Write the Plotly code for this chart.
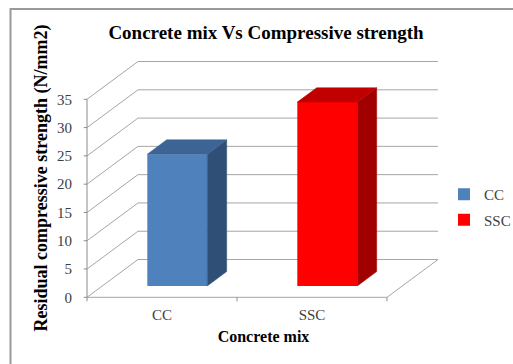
import plotly.graph_objects as go

# Data
categories = ["CC", "SSC"]
strength = [23.3, 32.5]  # residual compressive strength, N/mm2
y_ticks = [0, 5, 10, 15, 20, 25, 30, 35]

# Styling for each mix: front, top and side face colours
front_colors = ["#4F81BD", "#FF0000"]
top_colors = ["#3C6495", "#C00000"]
side_colors = ["#2F4F77", "#A00000"]

# Oblique 3-D projection (depth expressed in axis units)
DX = 0.34        # horizontal shift of the back plane, category units
DY = 6.68        # vertical shift of the back plane, value units
F0, F1 = 0.30, 0.68   # bar front / back depth fraction
HALF_W = 0.2     # half bar width, category units
Y_MAX = 35
GRID = "#A6A6A6"
AXIS = "#8C8C8C"
SERIF = "Liberation Serif, Times New Roman, serif"

# Page and plot-area geometry (pixels)
W, H = 513, 364
M_L, M_R, M_T, M_B = 80, 66, 54, 62
PW, PH = W - M_L - M_R, H - M_T - M_B


def proj(c, v, d):
    return c + d * DX, v + d * DY


def paper_x(px):
    return (px - M_L) / PW


def paper_y(py):
    return (H - M_B - py) / PH


fig = go.Figure()
shapes = []

# Side wall / back wall gridlines
left, right = -0.5, len(categories) - 0.5
for v in y_ticks:
    x0, y0 = proj(left, v, 0)
    x1, y1 = proj(left, v, 1)
    x2, y2 = proj(right, v, 1)
    shapes.append(dict(type="path", xref="x", yref="y", layer="below",
                       path=f"M{x0},{y0} L{x1},{y1} L{x2},{y2}",
                       line=dict(color=GRID, width=1)))

# Floor front edge and right edge
fx1, fy1 = proj(right, 0, 1)
shapes.append(dict(type="path", xref="x", yref="y", layer="below",
                   path=f"M{left},0 L{right},0 L{fx1},{fy1}",
                   line=dict(color=GRID, width=1)))

# Value axis line and its ticks
shapes.append(dict(type="line", xref="x", yref="y", layer="below",
                   x0=left, y0=0, x1=left, y1=Y_MAX,
                   line=dict(color=AXIS, width=1)))
for v in y_ticks:
    shapes.append(dict(type="line", xref="x", yref="y", layer="below",
                       x0=left - 0.022, y0=v, x1=left, y1=v,
                       line=dict(color=AXIS, width=1)))
# Category axis ticks at the category boundaries
for k in range(len(categories) + 1):
    u = left + k
    shapes.append(dict(type="line", xref="x", yref="y", layer="below",
                       x0=u, y0=0, x1=u, y1=-0.7,
                       line=dict(color=AXIS, width=1)))

# Bars: front face as a bar trace, top and side faces as filled polygons
for i, (name, val) in enumerate(zip(categories, strength)):
    side = [proj(i + HALF_W, 0, F0), proj(i + HALF_W, val, F0),
            proj(i + HALF_W, val, F1), proj(i + HALF_W, 0, F1)]
    top = [proj(i - HALF_W, val, F0), proj(i + HALF_W, val, F0),
           proj(i + HALF_W, val, F1), proj(i - HALF_W, val, F1)]
    for poly, col in ((side, side_colors[i]), (top, top_colors[i])):
        fig.add_trace(go.Scatter(
            x=[p[0] for p in poly] + [poly[0][0]],
            y=[p[1] for p in poly] + [poly[0][1]],
            mode="lines", fill="toself", fillcolor=col,
            line=dict(color=col, width=0.5),
            showlegend=False, hoverinfo="skip"))
    fig.add_trace(go.Bar(
        x=[i + F0 * DX], y=[val], base=[F0 * DY], width=[2 * HALF_W],
        name=name, legendgroup=name,
        marker=dict(color=front_colors[i], line=dict(width=0))))

# Chart outline
shapes.append(dict(type="rect", xref="paper", yref="paper", layer="below",
                   x0=paper_x(10.5), x1=paper_x(520),
                   y0=paper_y(370), y1=paper_y(9),
                   line=dict(color="#9A9A9A", width=2)))

# Value scale: 0 sits at y=297.3 px, 35 at y=99.3 px
px_per_unit = (297.3 - 99.3) / Y_MAX
y_lo = -((H - M_B) - 297.3) / px_per_unit
y_hi = (297.3 - M_T) / px_per_unit
# Category scale: 150 px per category, left boundary at x=87 px
x_lo = (M_L - 87) / 150 - 0.5
x_hi = (W - M_R - 87) / 150 - 0.5

fig.update_layout(
    width=W, height=H,
    margin=dict(l=M_L, r=M_R, t=M_T, b=M_B, autoexpand=False),
    paper_bgcolor="white", plot_bgcolor="rgba(0,0,0,0)",
    barmode="overlay",
    shapes=shapes,
    font=dict(family=SERIF, size=15, color="#404040"),
    title=dict(text="<b>Concrete mix Vs Compressive strength</b>",
               font=dict(family=SERIF, size=19, color="black"),
               xref="container", yref="container",
               x=266 / W, y=1 - 32 / H, xanchor="center", yanchor="middle"),
    xaxis=dict(range=[x_lo, x_hi], showgrid=False, zeroline=False,
               showline=False, tickvals=list(range(len(categories))),
               ticktext=categories, ticks="", ticklabelstandoff=2,
               tickfont=dict(family=SERIF, size=15, color="#404040"),
               title=dict(text="<b>Concrete mix</b>", standoff=8,
                          font=dict(family=SERIF, size=16, color="black"))),
    yaxis=dict(range=[y_lo, y_hi], showgrid=False, zeroline=False,
               showline=False, tickvals=y_ticks, ticks="outside", ticklen=4,
               tickcolor="rgba(0,0,0,0)",
               tickfont=dict(family=SERIF, size=15, color="#404040"),
               title=dict(text="<b>Residual compressive strength (N/mm2)</b>",
                          standoff=4,
                          font=dict(family=SERIF, size=18, color="black"))),
    legend=dict(x=paper_x(444), xanchor="left", y=paper_y(178), yanchor="top",
                tracegroupgap=3, bgcolor="rgba(0,0,0,0)",
                font=dict(family=SERIF, size=15, color="#404040")),
    showlegend=True,
)

fig.write_html("out.html")
